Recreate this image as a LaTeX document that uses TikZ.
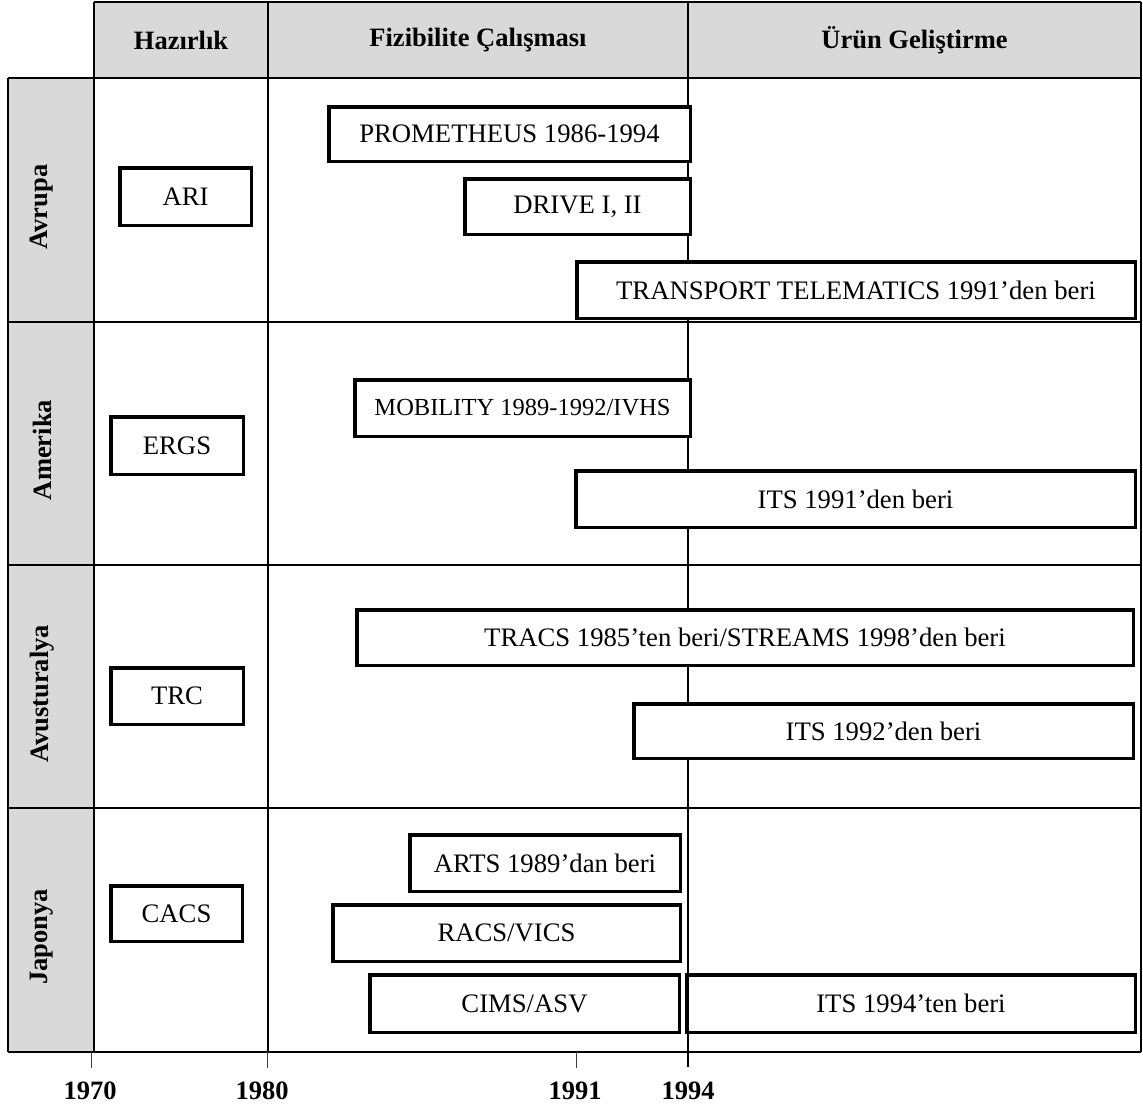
\documentclass[tikz,border=0pt]{standalone}
\usepackage{fontspec}
\setmainfont{Liberation Serif}
\definecolor{cellgray}{HTML}{D9D9D9}
\definecolor{tickgray}{HTML}{404040}
% one box: name, left, right, top, bottom, text
\newcommand\progbox[6]{%
  \node[progbar, minimum width={(#3-#2-3.5)*1pt}, minimum height={(#5-#4-3.5)*1pt}]
    (#1) at ({(#2+#3)/2},{(#4+#5)/2}) {#6};}
\begin{document}
\begin{tikzpicture}[x=1pt,y=-1pt,
  gridline/.style={line width=2pt},
  progbar/.style={draw, line width=3.5pt, fill=white, inner sep=0pt,
    font=\fontsize{26.7}{32}\selectfont},
  headtext/.style={font=\fontsize{26.5}{32}\selectfont\bfseries},
  rowtext/.style={font=\fontsize{26.5}{32}\selectfont\bfseries, rotate=90},
  yeartext/.style={font=\fontsize{26.5}{32}\selectfont\bfseries},
  tickline/.style={draw=tickgray, line width=0.9pt}]
\useasboundingbox (0,0) rectangle (1143,1108);

% shaded header row and region column
\fill[cellgray] (94,1.7) rectangle (1141,78);
\fill[cellgray] (8,78) rectangle (94,1052);

% table rules
\draw[gridline] (94,1.7) -- (1141,1.7);
\foreach \yy in {78,322,565,808,1052}
  \draw[gridline] (8,\yy) -- (1141,\yy);
\draw[gridline] (8,78) -- (8,1052);
\draw[gridline] (94,1.7) -- (94,1052);
\draw[gridline] (268,1.7) -- (268,1052);
\draw[gridline] (688,1.7) -- (688,1067);
\draw[gridline] (1141,1.7) -- (1141,1052);

% year ticks
\draw[tickline] (91,1052) -- (91,1068);
\draw[tickline] (267,1052) -- (267,1068);
\draw[tickline] (576,1052) -- (576,1068);

% column headings
\node[headtext] (hHaz) at (181,40) {Hazırlık};
\node[headtext] (hFiz) at (478,40) {Fizibilite Çalışması};
\node[headtext] (hUrun) at (914.5,40) {Ürün Geliştirme};

% region labels
\node[rowtext] (rAvr) at (42,207) {Avrupa};
\node[rowtext] (rAme) at (42,450) {Amerika};
\node[rowtext] (rAvu) at (42,694) {Avusturalya};
\node[rowtext] (rJap) at (42,937) {Japonya};

% Avrupa
\progbox{ari}{118}{253}{166}{227}{ARI}
\progbox{prom}{327}{692}{105}{163}{PROMETHEUS 1986-1994}
\progbox{drive}{463}{692}{177}{236}{DRIVE I, II}
\progbox{telem}{575}{1137}{260}{320}{TRANSPORT TELEMATICS 1991’den beri}

% Amerika
\progbox{ergs}{109}{245}{415}{476}{ERGS}
\node[progbar, font=\fontsize{24.5}{30}\selectfont, minimum width=335.5pt, minimum height=56.5pt]
  (mob) at (522.5,408) {MOBILITY 1989-1992/IVHS};
\progbox{itsA}{574}{1137}{469}{529}{ITS 1991’den beri}

% Avusturalya
\progbox{trc}{109}{245}{666}{726}{TRC}
\progbox{tracs}{355}{1135}{608}{667}{TRACS 1985’ten beri/STREAMS 1998’den beri}
\progbox{itsB}{632}{1135}{702}{760}{ITS 1992’den beri}

% Japonya
\progbox{cacs}{109}{244}{884}{943}{CACS}
\progbox{arts}{408}{682}{833}{893}{ARTS 1989’dan beri}
\progbox{racs}{331}{682}{903}{963}{RACS/VICS}
\progbox{cims}{368}{681}{973}{1034}{CIMS/ASV}
\progbox{itsC}{685}{1137}{973}{1034}{ITS 1994’ten beri}

% time axis labels
\node[yeartext] (y1970) at (90,1091) {1970};
\node[yeartext] (y1980) at (262,1091) {1980};
\node[yeartext] (y1991) at (575,1091) {1991};
\node[yeartext] (y1994) at (688,1091) {1994};
\end{tikzpicture}
\end{document}
